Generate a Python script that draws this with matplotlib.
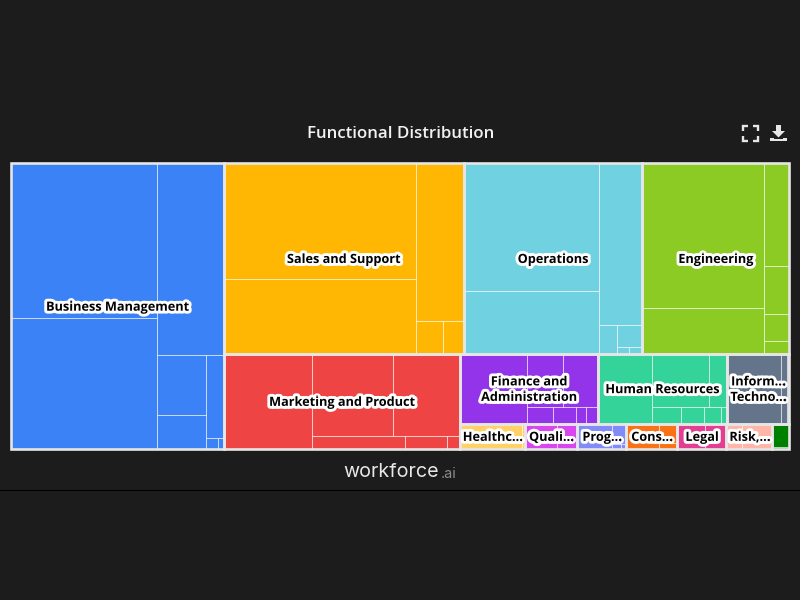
import matplotlib
matplotlib.use("Agg")
import matplotlib.pyplot as plt
import matplotlib.patheffects as pe
from matplotlib.patches import Rectangle, Polygon

# ---- data -----------------------------------------------------------------
functions = ["Business Management", "Sales and Support", "Operations", "Engineering",
             "Marketing and Product", "Finance and Administration", "Human Resources",
             "Information Technology", "Healthcare", "Quality", "Program", "Consulting",
             "Legal", "Risk, Compliance", "Other"]
labels = ["Business Management", "Sales and Support", "Operations", "Engineering",
          "Marketing and Product", "Finance and\nAdministration", "Human Resources",
          "Inform\u2026\nTechno\u2026", "Healthc\u2026", "Quali\u2026", "Prog\u2026", "Cons\u2026",
          "Legal", "Risk,\u2026", ""]
colors = ["#3b82f6", "#ffb703", "#70d1e0", "#8ccb24", "#ef4444", "#9333ea", "#34d399",
          "#64748b", "#ffd166", "#d946ef", "#818cf8", "#f97316", "#e33f92", "#ffb5a7", "#008000"]

business = [22768, 19188, 12812, 2917, 1633, 1530, 146, 67]
sales = [22210, 14327, 7527, 873, 687]
operations = [17291, 8483, 6990, 528, 546, 80, 85]
engineering = [17637, 5566, 2591, 1220, 670, 320]
marketing = [8385, 6675, 5478, 1251, 576, 173]
finance = [4704, 1897, 1850, 428, 379, 167, 200]
human_res = [3801, 3038, 970, 484, 391, 284, 97]
info_tech = [3794, 398, 78, 70]
healthcare = [1589, 56]
quality = [829, 510]
program = [875, 304, 43, 27]
consulting = [824, 359, 105]
legal = [719, 543]
risk = [390, 434, 349]
other = [380, 41]
series = [business, sales, operations, engineering, marketing, finance, human_res, info_tech,
          healthcare, quality, program, consulting, legal, risk, other]

# how many items share each strip of the treemap; strips alternate column / row
top_strips = [1, 3, 1, 3, 1, 6]
strips = [[2, 1, 2, 1, 1, 1], [2, 1, 1, 1], [2, 1, 1, 1, 1, 1], [2, 1, 3], [1, 2, 1, 3],
          [1, 2, 1, 3], [1, 2, 1, 3], [1, 3], [1, 1], [1, 1], [1, 1, 1, 1], [1, 1, 1],
          [1, 1], [1, 1, 1], [2]]

BG = "#1c1c1c"
BORDER = "#e6e6e6"
PLOT = (10.6, 163.3, 778.4, 285.8)  # treemap box in figure pixels


def layout(values, strip_sizes, box):
    """Strip treemap: alternate columns and rows, filling what is left of box."""
    x, y, w, h = box
    rects, i, column = [], 0, True
    scale = w * h / sum(values)
    for n in strip_sizes:
        part = values[i:i + n]
        area = sum(part) * scale
        if column:
            sw = area / h
            cy = y
            for v in part:
                ch = v * scale / sw
                rects.append((x, cy, sw, ch))
                cy += ch
            x += sw
            w -= sw
        else:
            sh = area / w
            cx = x
            for v in part:
                cw = v * scale / sh
                rects.append((cx, y, cw, sh))
                cx += cw
            y += sh
            h -= sh
        i += n
        column = not column
    return rects


plt.rcParams["font.family"] = ["Open Sans", "DejaVu Sans"]
fig = plt.figure(figsize=(8, 6), dpi=100, facecolor=BG)
ax = fig.add_axes([0, 0, 1, 1])
ax.set_xlim(0, 800)
ax.set_ylim(600, 0)
ax.axis("off")

totals = [sum(s) for s in series]
group_boxes = layout(totals, top_strips, PLOT)

for vals, st, box, col in zip(series, strips, group_boxes, colors):
    for r in layout(vals, st, box):
        ax.add_patch(Rectangle(r[:2], r[2], r[3], facecolor=col, edgecolor="none", zorder=2))
        ax.add_patch(Rectangle(r[:2], r[2], r[3], facecolor="none",
                               edgecolor=(1, 1, 1, 0.45), linewidth=0.75, zorder=3))
for box in group_boxes:
    ax.add_patch(Rectangle(box[:2], box[2], box[3], facecolor="none",
                           edgecolor=BORDER, linewidth=1.9, zorder=4))
for box, lab in zip(group_boxes, labels):
    if lab:
        ax.text(box[0] + box[2] / 2 + 0.5, box[1] + box[3] / 2 + 1.0, lab, ha="center", va="center",
                fontsize=9.15, fontweight="bold", color="black", linespacing=1.25, zorder=6,
                path_effects=[pe.withStroke(linewidth=4.2, foreground="white")])

# header and footer
ax.text(400.5, 133.5, "Functional Distribution", ha="center", va="center", color="#f2f2f2",
        fontsize=12.2, fontweight="semibold", zorder=6)
ax.text(343, 472, "workforce", ha="left", va="center", color="#e8e8e8", fontsize=14.2,
        family=["Inter", "DejaVu Sans"], zorder=6)
ax.text(441, 473.5, ".ai", ha="left", va="center", color="#8c8c8c", fontsize=10.5,
        family=["Inter", "DejaVu Sans"], zorder=6)
ax.plot([0, 800], [489.5, 489.5], color="#000000", linewidth=0.8, zorder=1)

# toolbar icons
ICON = "#e6e6e6"
for cx, cy, dx, dy in [(742.5, 125.5, 1, 1), (757.5, 125.5, -1, 1), (742.5, 140.5, 1, -1), (757.5, 140.5, -1, -1)]:
    ax.plot([cx + 5 * dx, cx, cx], [cy, cy, cy + 5 * dy], color=ICON, linewidth=1.7,
            solid_joinstyle="miter", solid_capstyle="butt", zorder=6)
ax.add_patch(Polygon([(776, 125), (781, 125), (781, 131), (785, 131), (778.5, 137.5), (772, 131), (776, 131)],
                     closed=True, facecolor=ICON, edgecolor="none", zorder=6))
ax.add_patch(Polygon([(770, 138), (774, 138), (774, 139), (783, 139), (783, 138), (787, 138), (787, 141), (770, 141)],
                     closed=True, facecolor=ICON, edgecolor="none", zorder=6))

fig.savefig("out.png", dpi=100, facecolor=BG)
